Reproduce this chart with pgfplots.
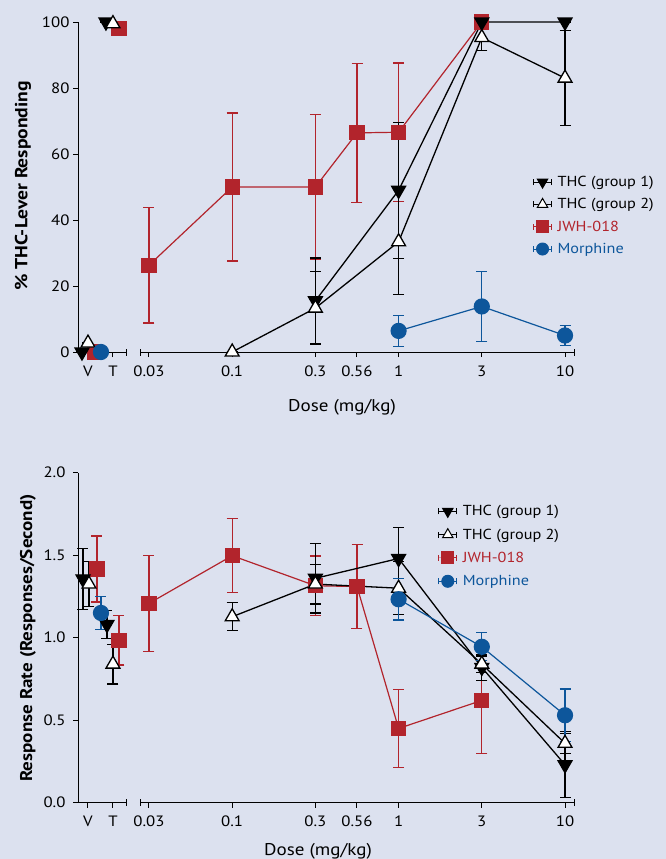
\documentclass[border=0pt]{standalone}
\usepackage{pgfplots}
\pgfplotsset{compat=1.18}
\usepackage{fontspec}
\setmainfont{PT Sans}[FakeStretch=1.12]
\definecolor{bg}{RGB}{220,225,239}
\definecolor{jwh}{RGB}{178,36,44}
\definecolor{mor}{RGB}{13,86,155}
\pgfplotsset{
  myaxis/.style={
    scale only axis, width=496pt, height=330pt,
    xmin=-0.853, xmax=5.108,
    axis lines*=left, clip=false,
    x axis line style={draw=none},
    y axis line style={line width=1pt},
    tick align=outside, major tick length=5pt,
    tick style={black, line width=1pt},
    xtick={-0.733,-0.433,0,1,2,2.5,3,4,5},
    xticklabels={V,T,0.03,0.1,0.3,0.56,1,3,10},
    tick label style={font=\fontsize{15}{17}\selectfont},
    xticklabel style={yshift=-5pt},
    /pgf/number format/assume math mode=true,
    legend cell align=left,
    legend style={draw=none, fill=none, inner sep=0pt, row sep=7.5pt, column sep=4pt,
      nodes={inner sep=1.5pt}, font=\fontsize{14.5}{16}\selectfont},
    legend image code/.code={
      \draw[mark repeat=2, mark phase=2, mark size=6pt, ##1, line width=1pt]
        plot coordinates {(0pt,0pt) (9pt,0pt) (18pt,0pt)};
      \draw[##1, line width=1pt] (0pt,-3pt) -- (0pt,3pt) (18pt,-3pt) -- (18pt,3pt);
    },
  },
  ebar/.style={error bars/y dir=both, error bars/y explicit,
    error bars/error bar style={line width=1.3pt, #1},
    error bars/error mark options={rotate=90, line width=1.3pt, mark size=5.5pt, #1}},
  thcA/.style={black, line width=1.3pt, mark=triangle*, mark size=8pt, mark options={rotate=180, fill=black, solid}, ebar=black},
  thcB/.style={black, line width=1.3pt, mark=triangle*, mark size=8pt, mark options={fill=white, solid}, ebar=black},
  jwhS/.style={jwh, line width=1.2pt, mark=square*, mark size=7pt, mark options={fill=jwh, solid}, ebar=jwh},
  morS/.style={mor, line width=1.2pt, mark=*, mark size=7.5pt, mark options={fill=mor, solid}, ebar=mor},
}
\newcommand{\xaxisbreak}{%
  \draw[line width=1pt] (axis cs:-0.853,0) -- (axis cs:-0.276,0);
  \draw[line width=1pt] ([yshift=-3.5pt]axis cs:-0.276,0) -- ([yshift=3.5pt]axis cs:-0.276,0);
  \draw[line width=1pt] (axis cs:-0.096,0) -- (axis cs:5.108,0);
  \draw[line width=1pt] ([yshift=-3.5pt]axis cs:-0.096,0) -- ([yshift=3.5pt]axis cs:-0.096,0);
  \draw[line width=1pt] ([yshift=-3.5pt]axis cs:5.108,0) -- ([yshift=3.5pt]axis cs:5.108,0);
}
\newcommand{\legendentries}{%
\addlegendimage{black, mark=triangle*, mark options={rotate=180, fill=black, solid}}
\addlegendentry{THC (group 1)}
\addlegendimage{black, mark=triangle*, mark options={fill=white, solid}}
\addlegendentry{THC (group 2)}
\addlegendimage{jwh, mark=square*, mark options={fill=jwh, solid}}
\addlegendentry{\textcolor{jwh}{JWH-018}}
\addlegendimage{mor, mark=*, mark options={fill=mor, solid}}
\addlegendentry{\textcolor{mor}{Morphine}}
}
\begin{document}
\begin{tikzpicture}[x=1pt,y=1pt]
\useasboundingbox (0,0) rectangle (666,-859);
\fill[bg] (0,0) rectangle (666,-859);
% ---------------- top panel ----------------
\begin{axis}[myaxis, at={(78pt,-352pt)}, anchor=south west,
  ymin=0, ymax=100, ytick={0,20,40,60,80,100},
  legend style={at={(0.917,0.538)}, anchor=north west}]
\legendentries
\xaxisbreak
% JWH-018
\addplot[jwhS, forget plot] coordinates {(0,26.3) +- (0,17.5) (1,50) +- (0,22.4) (2,50) +- (0,22) (2.5,66.4) +- (0,21) (3,66.6) +- (0,21) (4,100) +- (0,0)};
\addplot[jwhS, only marks, forget plot] coordinates {(-0.649,0) +- (0,0) (-0.361,98) +- (0,0)};
% THC group 1
\addplot[thcA, forget plot] coordinates {(2,15.5) +- (0,13) (3,49) +- (0,20.6) (4,100) +- (0,0) (5,100) +- (0,0)};
\addplot[thcA, only marks, forget plot] coordinates {(-0.805,0) +- (0,0) (-0.517,100) +- (0,0)};
% THC group 2
\addplot[thcB, forget plot] coordinates {(1,0) +- (0,0) (2,13.3) +- (0,11) (3,33.4) +- (0,16) (4,95.3) +- (0,3.9) (5,83) +- (0,14.4)};
\addplot[thcB, only marks, forget plot] coordinates {(-0.733,2.7) +- (0,0) (-0.433,99.5) +- (0,0)};
% Morphine
\addplot[morS, forget plot] coordinates {(3,6.4) +- (0,4.7) (4,13.8) +- (0,10.6) (5,5) +- (0,3)};
\addplot[morS, only marks, forget plot] coordinates {(-0.577,0) +- (0,0)};
\end{axis}
\node[font=\fontsize{17}{19}\selectfont, anchor=base] at (342,-411) {Dose (mg/kg)};
\node[font=\bfseries\fontsize{17.5}{19}\selectfont, rotate=90] at (23,-186) {\% THC-Lever Responding};
% ---------------- bottom panel ----------------
\begin{axis}[myaxis, at={(78pt,-802.7pt)}, anchor=south west,
  ymin=0, ymax=2, ytick={0,0.5,1,1.5,2},
  yticklabel style={/pgf/number format/.cd, fixed, fixed zerofill, precision=1, /tikz/.cd, xshift=-4pt},
  legend style={at={(0.726,0.906)}, anchor=north west, row sep=8.5pt}]
\legendentries
\xaxisbreak
% JWH-018
\addplot[jwhS, forget plot] coordinates {(0,1.208) +- (0,0.29) (1,1.497) +- (0,0.225) (2,1.315) +- (0,0.18) (2.5,1.31) +- (0,0.255) (3,0.45) +- (0,0.235) (4,0.62) +- (0,0.32)};
\addplot[jwhS, only marks, forget plot] coordinates {(-0.625,1.416) +- (0,0.2) (-0.361,0.985) +- (0,0.15)};
% THC group 1
\addplot[thcA, forget plot] coordinates {(2,1.36) +- (0,0.21) (3,1.48) +- (0,0.19) (4,0.82) +- (0,0.08) (5,0.23) +- (0,0.2)};
\addplot[thcA, only marks, forget plot] coordinates {(-0.793,1.356) +- (0,0.185) (-0.505,1.08) +- (0,0.085)};
% THC group 2
\addplot[thcB, forget plot] coordinates {(1,1.127) +- (0,0.085) (2,1.325) +- (0,0.12) (3,1.30) +- (0,0.16) (4,0.84) +- (0,0.05) (5,0.36) +- (0,0.06)};
\addplot[thcB, only marks, forget plot] coordinates {(-0.721,1.325) +- (0,0.135) (-0.433,0.84) +- (0,0.12)};
% Morphine
\addplot[morS, forget plot] coordinates {(3,1.233) +- (0,0.125) (4,0.945) +- (0,0.085) (5,0.53) +- (0,0.16)};
\addplot[morS, only marks, forget plot] coordinates {(-0.577,1.15) +- (0,0.10)};
\end{axis}
\node[font=\fontsize{17}{19}\selectfont, anchor=base] at (318,-855) {Dose (mg/kg)};
\node[font=\bfseries\fontsize{17}{19}\selectfont, rotate=90] at (28,-638) {Response Rate (Responses/Second)};
\end{tikzpicture}
\end{document}
